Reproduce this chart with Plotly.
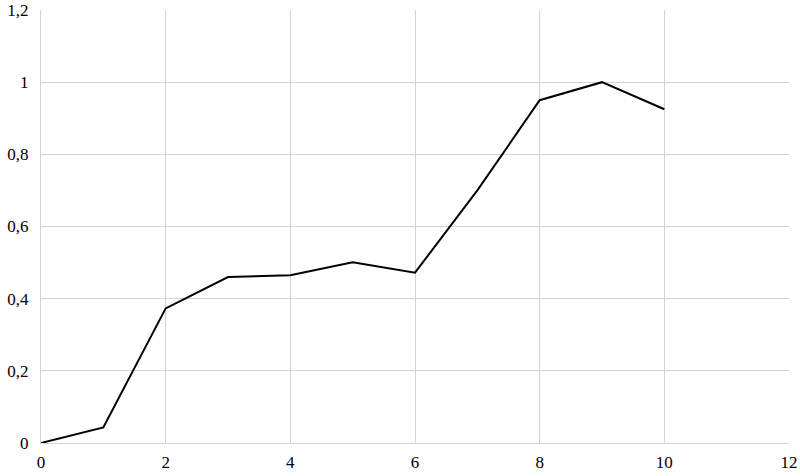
import plotly.graph_objects as go

x_values = [0, 1, 2, 3, 4, 5, 6, 7, 8, 9, 10]
y_values = [0, 0.043, 0.373, 0.460, 0.465, 0.501, 0.472, 0.700, 0.950, 1.0, 0.925]

fig = go.Figure()
fig.add_trace(go.Scatter(x=x_values, y=y_values, mode="lines",
                         line=dict(color="black", width=2), showlegend=False, cliponaxis=False))

grid = "#d4d4d4"
fig.update_layout(
    width=800, height=476,
    margin=dict(l=41, r=11, t=10, b=33, autoexpand=False),
    paper_bgcolor="white", plot_bgcolor="white",
    separators=", ",
    font=dict(family="'Times New Roman', 'Liberation Serif', Times, serif", size=17, color="black"),
    xaxis=dict(range=[0, 12], dtick=2, tick0=0, showgrid=True, gridcolor=grid, gridwidth=1,
               zeroline=False, showline=True, linecolor=grid, mirror=False, automargin=False,
               ticks="", ticklabelstandoff=4, fixedrange=True),
    yaxis=dict(range=[0, 1.2], dtick=0.2, tick0=0, showgrid=True, gridcolor=grid, gridwidth=1,
               zeroline=False, showline=True, linecolor=grid, automargin=False,
               ticks="", ticklabelstandoff=8, fixedrange=True),
)
fig.write_html("out.html", config={"displayModeBar": False},
               post_script="document.body.style.margin='0px';document.body.style.overflow='hidden';")
